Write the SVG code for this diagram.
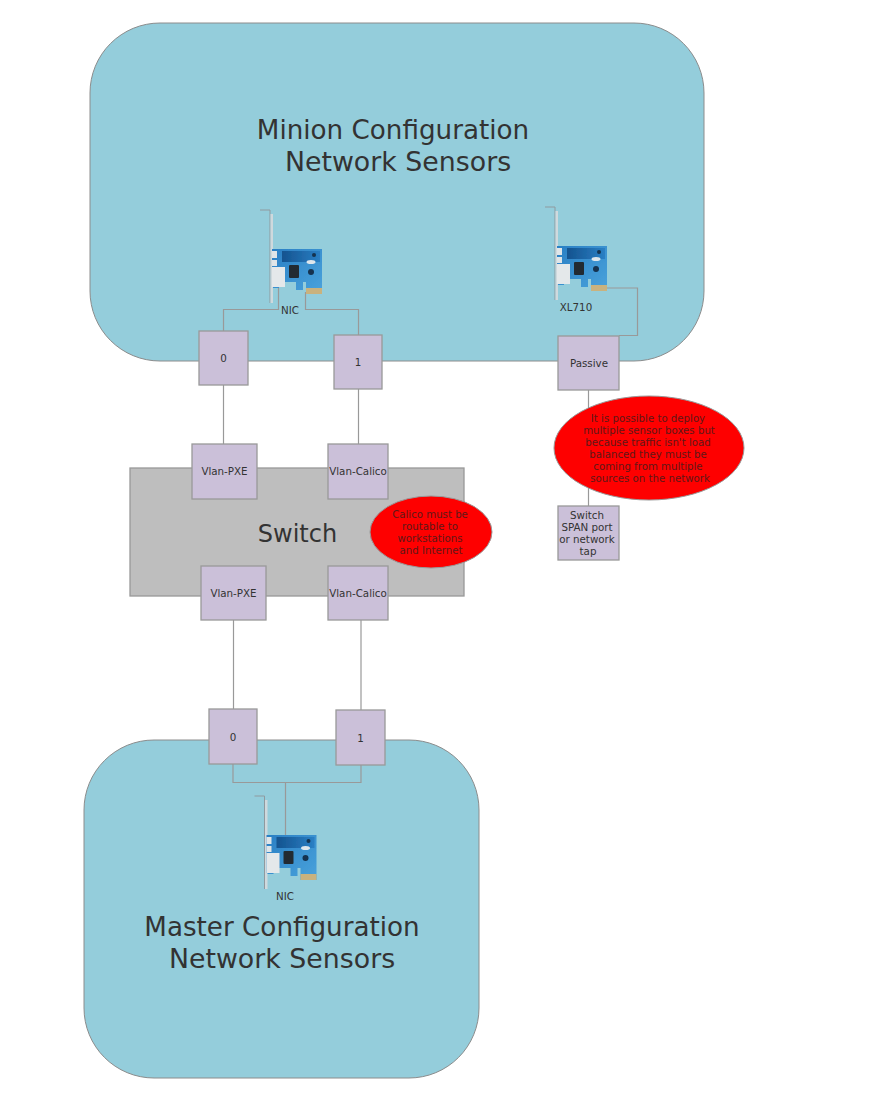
<svg xmlns="http://www.w3.org/2000/svg" width="869" height="1097" viewBox="0 0 869 1097">
<style>
text{font-family:"DejaVu Sans",Verdana,sans-serif;fill:#333;text-anchor:middle}
.big{font-size:26.2px}
.big2{font-size:26.8px}
.sm{font-size:10.3px}
.note{font-size:10.2px;fill:#5f1818}
.area{fill:#94cddb;stroke:#8c8c8c;stroke-width:1}
.box{fill:#cbc0d9;stroke:#999;stroke-width:1.3}
.sw{fill:#bebebe;stroke:#999;stroke-width:1.3}
.red{fill:#fe0000;stroke:#999;stroke-width:1}
.wire{fill:none;stroke:#999;stroke-width:1.2}
</style>
<defs>
<linearGradient id="pcb" x1="0" y1="0" x2="1" y2="1"><stop offset="0" stop-color="#2a7fc4"/><stop offset="1" stop-color="#4aa3dc"/></linearGradient>
<linearGradient id="band" x1="0" y1="0" x2="1" y2="0"><stop offset="0" stop-color="#14538f"/><stop offset="1" stop-color="#2a7fc4"/></linearGradient>
<filter id="soft" x="-5%" y="-5%" width="110%" height="110%"><feGaussianBlur stdDeviation="0.45"/></filter>
<g id="nic">
<path d="M0 0H10V93" fill="none" stroke="#8f9a9f" stroke-width="1"/>
<g filter="url(#soft)">
<rect x="10.500" y="4" width="2.500" height="89" fill="#cfd9dd"/>
<path d="M12 39H62V84H46V72H43V80H36V72H19V78H13V77H12Z" fill="url(#pcb)"/>
<rect x="22" y="41" width="38" height="11" fill="url(#band)"/>
<rect x="12" y="41" width="5" height="7" fill="#dfe5e8"/>
<rect x="12" y="50" width="5" height="6" fill="#dfe5e8"/>
<rect x="12" y="57" width="13" height="20" fill="#e4e8ea"/>
<rect x="29" y="55" width="10" height="13" rx="1" fill="#222c33"/>
<circle cx="54" cy="45" r="2" fill="#12324f"/>
<ellipse cx="51" cy="52" rx="4.500" ry="2" fill="#dde6ec"/>
<circle cx="51" cy="62" r="3" fill="#12324f"/>
<rect x="46" y="78" width="16" height="6" fill="#c9b27e"/>
</g>
</g>
</defs>

<g id="minion-area"><rect class="area" x="90" y="23" width="614" height="338" rx="70" ry="70"/>
<text class="big" x="393" y="138.500">Minion Configuration</text>
<text class="big2" x="398" y="170.500">Network Sensors</text></g>
<g id="master-area"><rect class="area" x="84" y="740" width="395" height="338" rx="70" ry="70"/>
<text class="big" x="282" y="935.500">Master Configuration</text>
<text class="big2" x="282" y="967.500">Network Sensors</text></g>
<g id="switch"><rect class="sw" x="130" y="468" width="334" height="128"/>
<text class="big" x="297.500" y="542" style="font-size:24px">Switch</text></g>

<g id="connectors">
<path class="wire" d="M223.500 331V309.500H278.500V288"/>
<path class="wire" d="M305.500 292V309.500H358.500V335"/>
<path class="wire" d="M223.500 385V444"/>
<path class="wire" d="M358.500 389V444"/>
<path class="wire" d="M233.500 620V709"/>
<path class="wire" d="M361 620V710"/>
<path class="wire" d="M233 764V782.500H361V765"/>
<path class="wire" d="M285.500 782V835"/>
<path class="wire" d="M606 288H637.500V335.500H619"/>
<path class="wire" d="M588.500 390V506"/>
</g>

<g id="nic-minion"><use href="#nic" x="260" y="210"/><text class="sm" x="290" y="314">NIC</text></g>
<g id="nic-xl710"><use href="#nic" x="545" y="207"/><text class="sm" x="576" y="311">XL710</text></g>
<g id="nic-master"><use href="#nic" x="254.500" y="796"/><text class="sm" x="285" y="900">NIC</text></g>

<g id="minion-port-0"><rect class="box" x="199" y="331" width="49" height="54"/><text class="sm" x="223.500" y="362">0</text></g>
<g id="minion-port-1"><rect class="box" x="334" y="335" width="48" height="54"/><text class="sm" x="358" y="366">1</text></g>
<g id="passive"><rect class="box" x="558" y="336" width="61" height="54"/><text class="sm" x="589" y="367">Passive</text></g>
<g id="span"><rect class="box" x="558" y="506" width="61" height="54"/>
<text class="sm" x="587" y="519">Switch</text><text class="sm" x="587" y="531">SPAN port</text><text class="sm" x="587" y="543">or network</text><text class="sm" x="588" y="555">tap</text></g>
<g id="vlan-pxe-top"><rect class="box" x="192" y="444" width="65" height="55"/><text class="sm" x="224.500" y="475">Vlan-PXE</text></g>
<g id="vlan-calico-top"><rect class="box" x="328" y="444" width="60" height="55"/><text class="sm" x="358" y="475">Vlan-Calico</text></g>
<g id="vlan-pxe-bottom"><rect class="box" x="201" y="566" width="65" height="54"/><text class="sm" x="233.500" y="597">Vlan-PXE</text></g>
<g id="vlan-calico-bottom"><rect class="box" x="328" y="566" width="60" height="54"/><text class="sm" x="358" y="597">Vlan-Calico</text></g>
<g id="master-port-0"><rect class="box" x="209" y="709" width="48" height="55"/><text class="sm" x="233" y="741">0</text></g>
<g id="master-port-1"><rect class="box" x="336" y="710" width="49" height="55"/><text class="sm" x="360.500" y="742">1</text></g>

<g id="note-calico"><ellipse class="red" cx="431" cy="532" rx="61" ry="36"/>
<text class="note" x="430" y="518">Calico must be</text><text class="note" x="430" y="530">routable to</text><text class="note" x="430" y="542">workstations</text><text class="note" x="431" y="554">and Internet</text></g>
<g id="note-sensor"><ellipse class="red" cx="649" cy="448" rx="95" ry="52"/>
<text class="note" x="648" y="422">It is possible to deploy</text><text class="note" x="649" y="434">multiple sensor boxes but</text><text class="note" x="648" y="446">because traffic isn't load</text><text class="note" x="648" y="458">balanced they must be</text><text class="note" x="648" y="470">coming from multiple</text><text class="note" x="650" y="482">sources on the network</text></g>
</svg>
